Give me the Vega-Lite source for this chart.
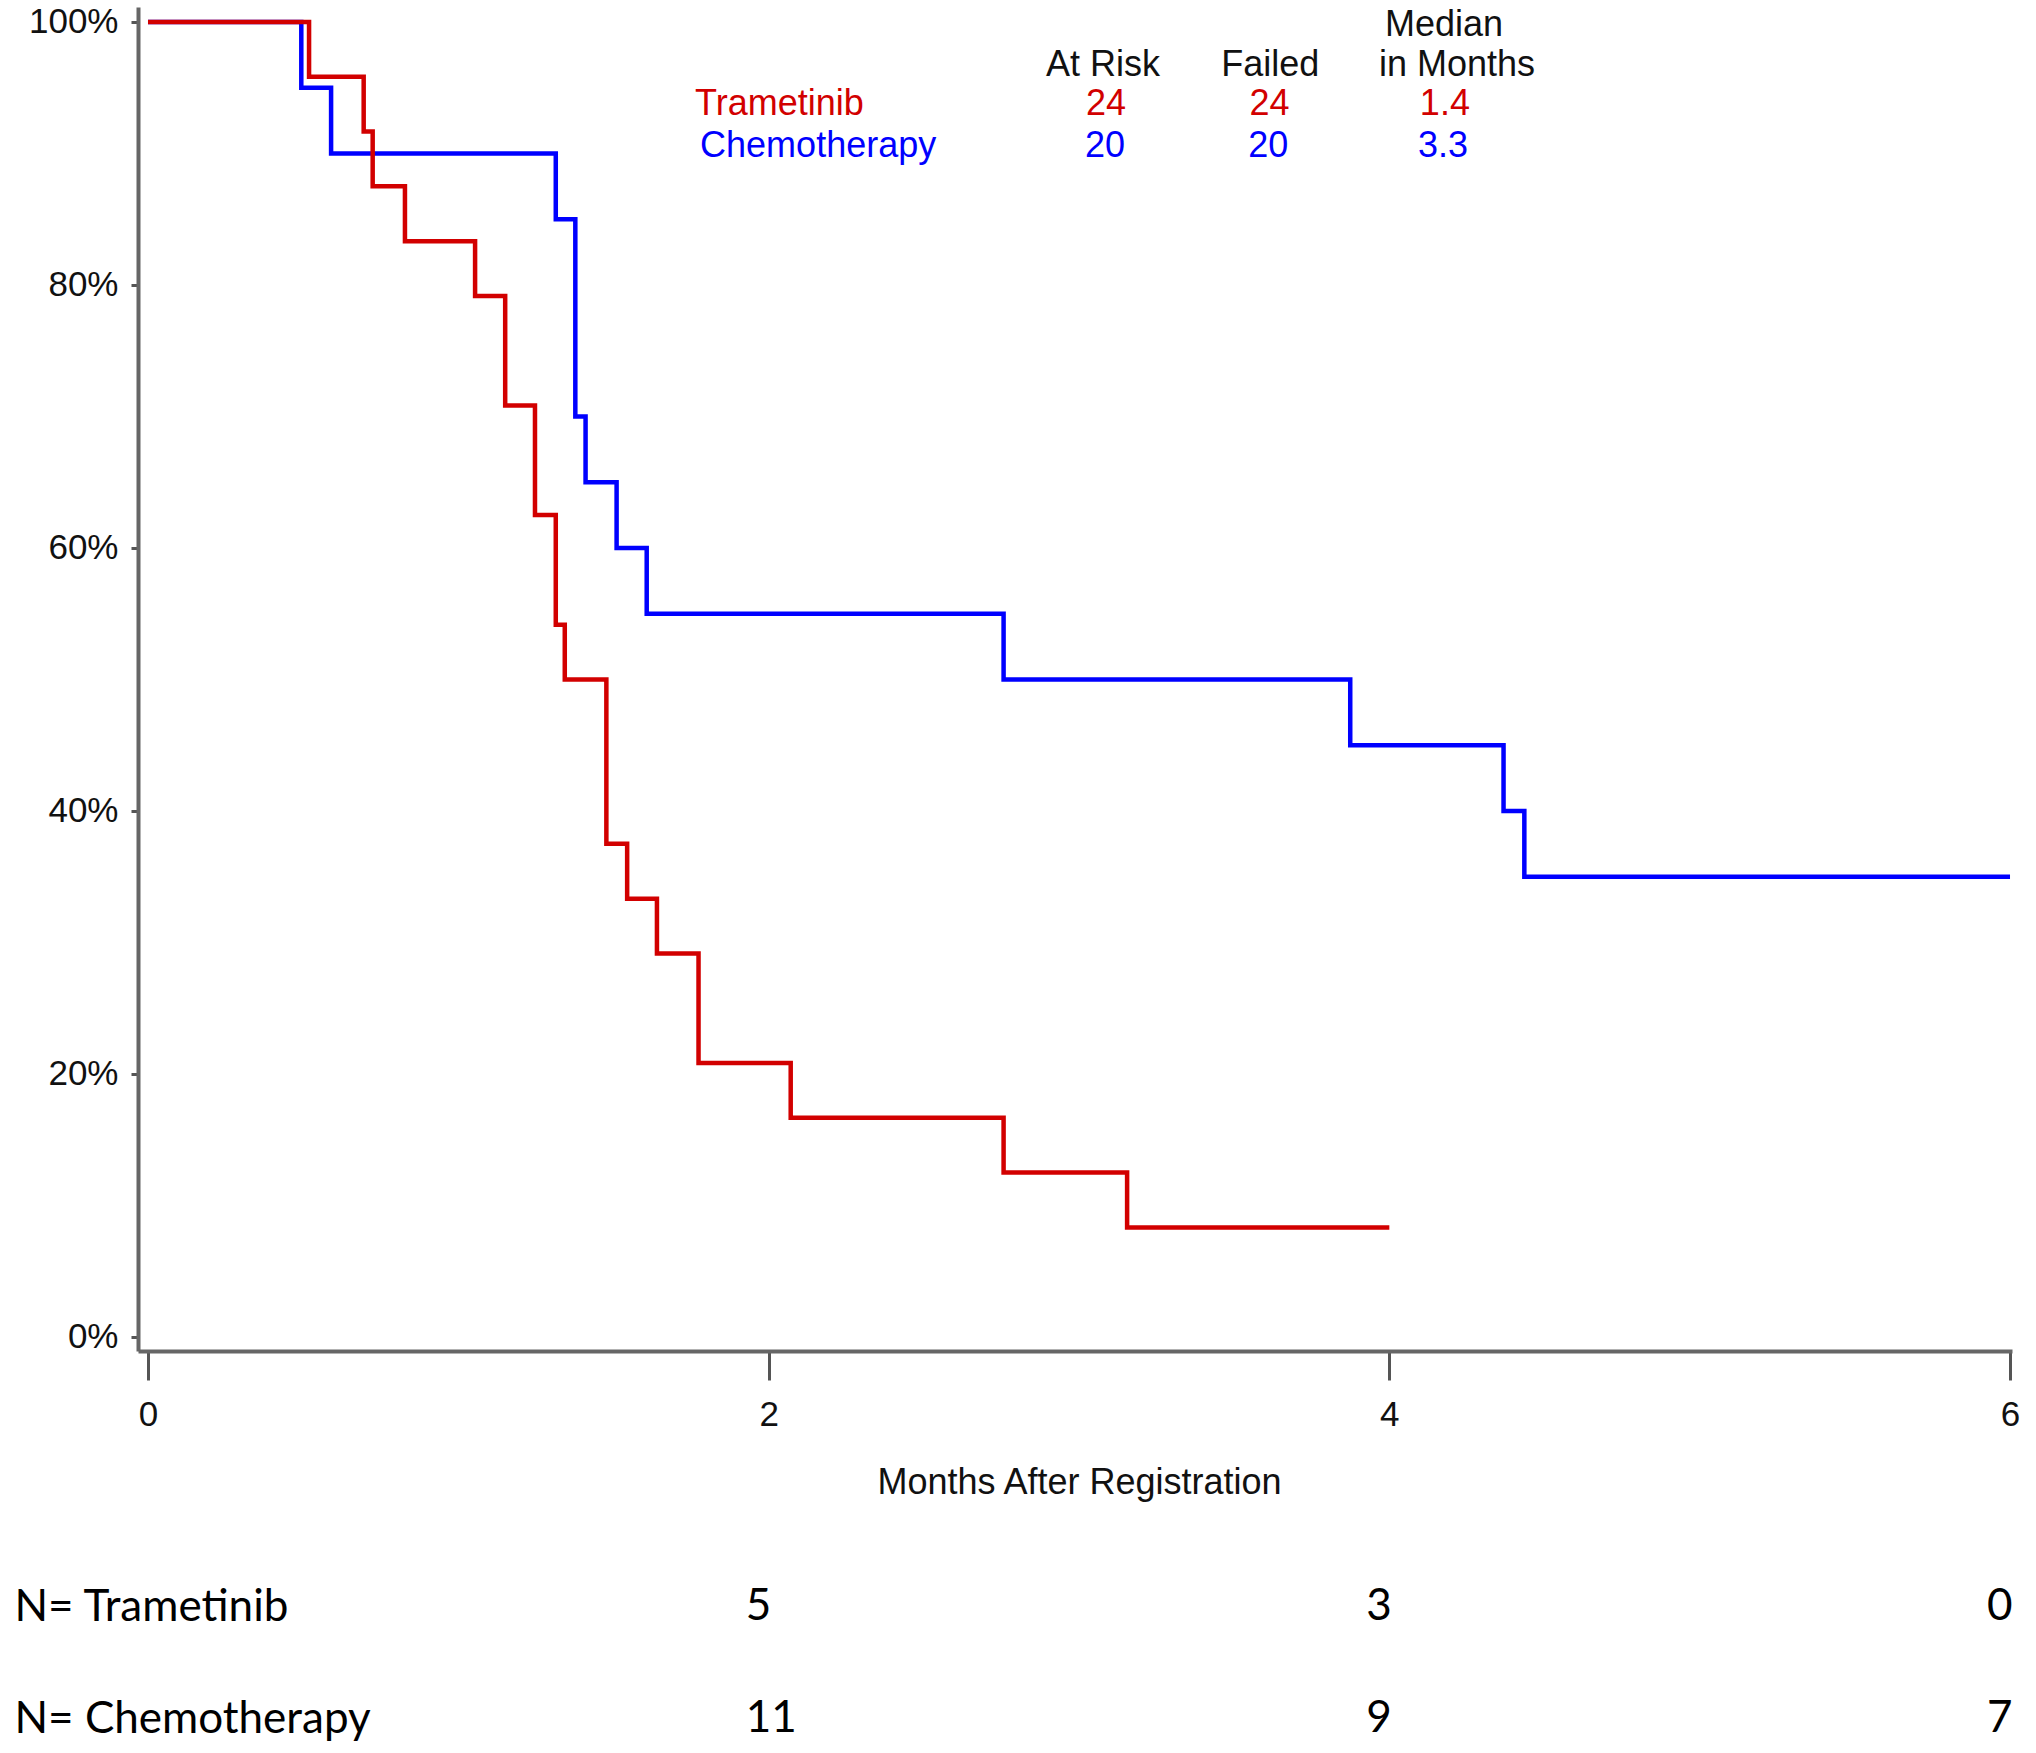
{
  "$schema": "https://vega.github.io/schema/vega-lite/v6.json",
  "width": 1874,
  "height": 1344,
  "autosize": {"type": "none"},
  "padding": {"left": 138, "top": 7, "right": 24, "bottom": 402},
  "background": "white",
  "config": {"view": {"stroke": null}, "axis": {"grid": false}},
  "datasets": {
    "km": [
      {"arm": "Chemotherapy", "month": 0, "pct": 100},
      {"arm": "Chemotherapy", "month": 0.494, "pct": 95},
      {"arm": "Chemotherapy", "month": 0.590, "pct": 90},
      {"arm": "Chemotherapy", "month": 1.314, "pct": 85},
      {"arm": "Chemotherapy", "month": 1.377, "pct": 70},
      {"arm": "Chemotherapy", "month": 1.410, "pct": 65},
      {"arm": "Chemotherapy", "month": 1.510, "pct": 60},
      {"arm": "Chemotherapy", "month": 1.607, "pct": 55},
      {"arm": "Chemotherapy", "month": 2.757, "pct": 50},
      {"arm": "Chemotherapy", "month": 3.874, "pct": 45},
      {"arm": "Chemotherapy", "month": 4.368, "pct": 40},
      {"arm": "Chemotherapy", "month": 4.435, "pct": 35},
      {"arm": "Chemotherapy", "month": 6.0, "pct": 35},
      {"arm": "Trametinib", "month": 0, "pct": 100},
      {"arm": "Trametinib", "month": 0.519, "pct": 95.83},
      {"arm": "Trametinib", "month": 0.695, "pct": 91.67},
      {"arm": "Trametinib", "month": 0.724, "pct": 87.5},
      {"arm": "Trametinib", "month": 0.828, "pct": 83.33},
      {"arm": "Trametinib", "month": 1.054, "pct": 79.17},
      {"arm": "Trametinib", "month": 1.151, "pct": 70.83},
      {"arm": "Trametinib", "month": 1.247, "pct": 62.5},
      {"arm": "Trametinib", "month": 1.314, "pct": 54.17},
      {"arm": "Trametinib", "month": 1.343, "pct": 50},
      {"arm": "Trametinib", "month": 1.477, "pct": 37.5},
      {"arm": "Trametinib", "month": 1.544, "pct": 33.33},
      {"arm": "Trametinib", "month": 1.640, "pct": 29.17},
      {"arm": "Trametinib", "month": 1.774, "pct": 20.83},
      {"arm": "Trametinib", "month": 2.071, "pct": 16.67},
      {"arm": "Trametinib", "month": 2.757, "pct": 12.5},
      {"arm": "Trametinib", "month": 3.155, "pct": 8.33},
      {"arm": "Trametinib", "month": 4.0, "pct": 8.33}
    ],
    "header": [
      {"label": "Median", "month": 4.176, "pct": 98.97},
      {"label": "At Risk", "month": 3.077, "pct": 95.89},
      {"label": "Failed", "month": 3.616, "pct": 95.89},
      {"label": "in Months", "month": 4.218, "pct": 95.89}
    ],
    "names": [
      {"arm": "Trametinib", "label": "Trametinib", "month": 1.763, "pct": 92.89},
      {"arm": "Chemotherapy", "label": "Chemotherapy", "month": 1.779, "pct": 89.77}
    ],
    "vals": [
      {"arm": "Trametinib", "label": "24", "month": 3.087, "pct": 92.89},
      {"arm": "Trametinib", "label": "24", "month": 3.614, "pct": 92.89},
      {"arm": "Trametinib", "label": "1.4", "month": 4.179, "pct": 92.89},
      {"arm": "Chemotherapy", "label": "20", "month": 3.084, "pct": 89.77},
      {"arm": "Chemotherapy", "label": "20", "month": 3.610, "pct": 89.77},
      {"arm": "Chemotherapy", "label": "3.3", "month": 4.173, "pct": 89.77}
    ],
    "risk": [
      {"arm": "Trametinib", "month": 2, "n": "5"},
      {"arm": "Trametinib", "month": 4, "n": "3"},
      {"arm": "Trametinib", "month": 6, "n": "0"},
      {"arm": "Chemotherapy", "month": 2, "n": "11"},
      {"arm": "Chemotherapy", "month": 4, "n": "9"},
      {"arm": "Chemotherapy", "month": 6, "n": "7"}
    ]
  },
  "resolve": {"scale": {"y": "independent"}},
  "layer": [
    {
      "layer": [
        {
          "data": {"name": "km"},
          "mark": {"type": "line", "interpolate": "step-after", "strokeWidth": 4.5},
          "encoding": {
            "x": {
              "field": "month", "type": "quantitative", "title": "Months After Registration",
              "scale": {"domain": [-0.0322, 6.0064], "nice": false, "zero": false},
              "axis": {
                "values": [0, 2, 4, 6], "format": "d", "grid": false,
                "domainColor": "#666666", "domainWidth": 4,
                "tickSize": 29, "tickWidth": 3, "tickColor": "#555555",
                "labelPadding": 45, "labelBaseline": "alphabetic", "labelFlush": false,
                "labelFont": "Liberation Sans", "labelFontSize": 35, "labelColor": "#111111",
                "titleFont": "Liberation Sans", "titleFontSize": 36, "titleFontWeight": "normal",
                "titleColor": "#111111", "titleBaseline": "alphabetic", "titleY": 142, "titleX": 941
              }
            },
            "y": {
              "field": "pct", "type": "quantitative", "title": null,
              "scale": {"domain": [-1.065, 101.14], "nice": false, "zero": false},
              "axis": {
                "values": [0, 20, 40, 60, 80, 100], "labelExpr": "datum.value + '%'", "grid": false,
                "domainColor": "#666666", "domainWidth": 4,
                "tickSize": 7, "tickWidth": 3, "tickColor": "#555555",
                "labelPadding": 13, "labelBaseline": "middle",
                "labelFont": "Liberation Sans", "labelFontSize": 35, "labelColor": "#111111"
              }
            },
            "color": {
              "field": "arm", "type": "nominal",
              "scale": {"domain": ["Trametinib", "Chemotherapy"], "range": ["#D20000", "#0000FF"]},
              "legend": null
            }
          }
        },
        {
          "data": {"name": "header"},
          "mark": {"type": "text", "align": "center", "baseline": "alphabetic", "font": "Liberation Sans", "fontSize": 36, "color": "#111111"},
          "encoding": {
            "x": {"field": "month", "type": "quantitative", "title": "Months After Registration"},
            "y": {"field": "pct", "type": "quantitative", "title": null},
            "text": {"field": "label"}
          }
        },
        {
          "data": {"name": "names"},
          "mark": {"type": "text", "align": "left", "baseline": "alphabetic", "font": "Liberation Sans", "fontSize": 36},
          "encoding": {
            "x": {"field": "month", "type": "quantitative", "title": "Months After Registration"},
            "y": {"field": "pct", "type": "quantitative", "title": null},
            "color": {"field": "arm", "type": "nominal", "legend": null},
            "text": {"field": "label"}
          }
        },
        {
          "data": {"name": "vals"},
          "mark": {"type": "text", "align": "center", "baseline": "alphabetic", "font": "Liberation Sans", "fontSize": 36},
          "encoding": {
            "x": {"field": "month", "type": "quantitative", "title": "Months After Registration"},
            "y": {"field": "pct", "type": "quantitative", "title": null},
            "color": {"field": "arm", "type": "nominal", "legend": null},
            "text": {"field": "label"}
          }
        }
      ]
    },
    {
      "data": {"name": "risk"},
      "mark": {"type": "text", "align": "left", "baseline": "middle", "dx": -23, "font": "Lato", "fontSize": 44, "color": "#000000"},
      "encoding": {
        "x": {
          "field": "month", "type": "quantitative", "title": "Months After Registration",
          "scale": {"domain": [-0.0322, 6.0064], "nice": false, "zero": false}
        },
        "y": {
          "field": "arm", "type": "nominal", "sort": ["Trametinib", "Chemotherapy"], "title": null,
          "scale": {"type": "point", "domain": ["Trametinib", "Chemotherapy"], "range": [1600, 1712], "padding": 0},
          "axis": {
            "orient": "left", "domain": false, "ticks": false, "tickSize": 0, "grid": false,
            "labelPadding": 124, "labelAlign": "left", "labelBaseline": "middle", "labelLimit": 0,
            "labelFont": "Lato", "labelFontSize": 44, "labelColor": "#000000",
            "labelExpr": "'N= ' + datum.label"
          }
        },
        "text": {"field": "n"}
      }
    }
  ]
}
